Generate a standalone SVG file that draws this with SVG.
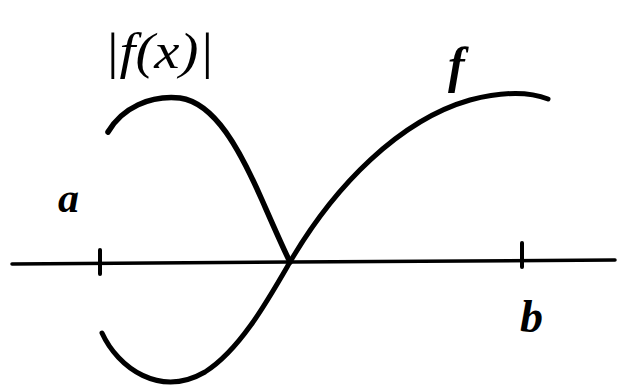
<svg xmlns="http://www.w3.org/2000/svg" width="635" height="388" viewBox="0 0 635 388">
<style>
.c{fill:none;stroke:#000;stroke-linecap:round;stroke-linejoin:round}
.t{font-family:"Liberation Serif",serif;font-style:italic;fill:#000}
</style>
<rect width="635" height="388" fill="#fff"/>
<g id="connectors">
<path class="c" stroke-width="3.5" d="M 12 264 L 290 262 L 615 260"/>
<path class="c" stroke-width="4" d="M 100 250 L 100 274"/>
<path class="c" stroke-width="4" d="M 522 243 L 522 267"/>
<path id="f-lower" class="c" stroke-width="5" d="M 102 333 C 118 368, 160 398, 205 372 C 240 350, 268 300, 290 262"/>
<path id="f-upper" class="c" stroke-width="5" d="M 290 262 C 335 185, 400 120, 470 100 C 505 91, 530 92, 548 99"/>
<path id="abs-f" class="c" stroke-width="5.5" d="M 108 132 C 122 108, 150 95, 180 98 C 215 103, 240 150, 262 200 C 273 225, 283 248, 290 262"/>
</g>
<g id="label-absf"><text class="t" x="104" y="68" font-size="50" textLength="110" lengthAdjust="spacingAndGlyphs">|f(x)|</text></g>
<g id="label-f"><text class="t" x="448" y="82" font-size="50" font-weight="bold">f</text></g>
<g id="label-a"><text class="t" x="58" y="212" font-size="42" font-weight="bold">a</text></g>
<g id="label-b"><text class="t" x="520" y="332" font-size="46" font-weight="bold">b</text></g>
</svg>
